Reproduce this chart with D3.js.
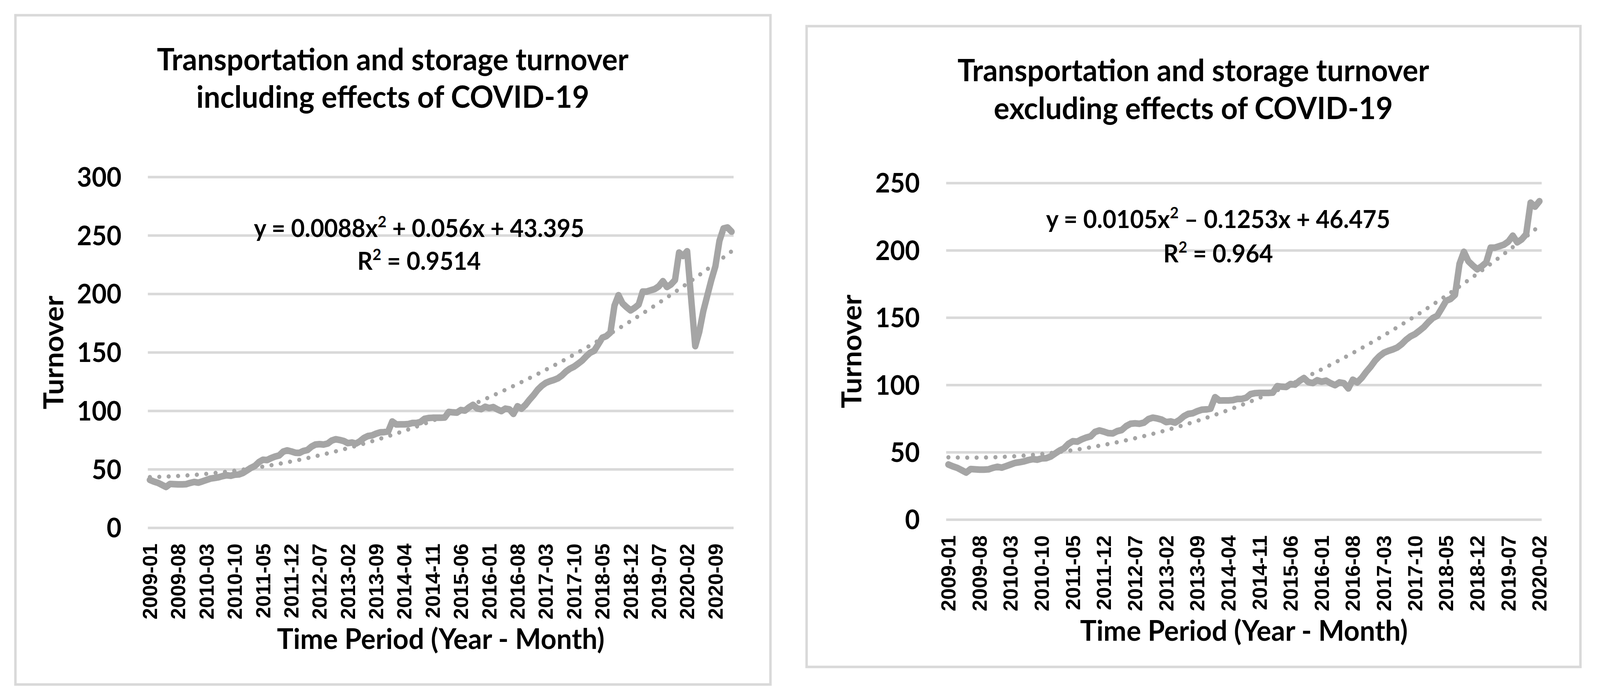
<!DOCTYPE html>
<html lang="en">
<head>
<meta charset="UTF-8">
<title>Transportation and storage turnover</title>
<script src="https://d3js.org/d3.v7.min.js"></script>
<style>
    html, body { margin: 0; padding: 0; background: #fff; overflow: hidden; }
    svg { display: block; width: 100vw; height: 100vh; }
    .title, .axis-title, .eq, .ytick { font-family: Lato, 'Open Sans', sans-serif; font-weight: bold; fill: #000; }
    .xtick { font-family: 'Liberation Sans', Arial, sans-serif; font-weight: bold; fill: #000; }
</style>
</head>
<body>
<div id="chart"></div>
<script>
// monthly turnover, 2009-01 .. 2021-01
const turnover = [
    41, 39.6, 38.5, 36.8, 35, 37.6, 37.4, 37.2, 37.2, 37.4, 38.5, 39.3,
    38.7, 39.8, 41, 42.2, 42.7, 43.3, 44.3, 45, 44.6, 45.5, 45.7, 46.9,
    49.1, 51.3, 53, 56.3, 58.3, 58, 59.7, 61, 61.9, 65.2, 66.3, 65.4,
    64.3, 64.1, 65.8, 66.6, 69.5, 71.3, 71.6, 71.3, 72.1, 74.7, 75.8, 75.2,
    74.3, 72.5, 73, 72.1, 74.1, 76.9, 78.6, 79.1, 80.6, 81.7, 81.9, 82.5,
    91, 88.5, 88.6, 88.6, 88.8, 89.7, 89.7, 90.6, 93.3, 94, 94.2, 94.2,
    94.2, 94.4, 99.2, 98.8, 98.6, 100.8, 100.3, 103.1, 105.2, 102.2, 101.5, 103.6,
    102.5, 103.3, 101.4, 99.9, 102, 101.4, 97.5, 104, 102, 105.3, 109.7, 113.6,
    118.1, 121.5, 124, 125.4, 126.5, 127.9, 130.4, 133.7, 136.2, 137.9, 140.4, 143.1,
    146.7, 149.8, 151.5, 157, 162.6, 164, 167, 190, 199, 192, 188.8, 186,
    188.2, 191, 202.1, 202.1, 203.2, 204.3, 206.6, 211, 206, 208.2, 212, 235.5,
    232.5, 236.6, 196, 155.4, 167.6, 185.4, 198.8, 212.1, 223.8, 245.5, 256.1, 256.9,
    253.3
];
// the "excluding COVID-19" series stops at 2020-02
const turnoverExcl = turnover.slice(0, 134);

const monthsIncl = d3.utcMonth.range(new Date(Date.UTC(2009, 0, 1)), new Date(Date.UTC(2021, 1, 1))).map(d3.utcFormat("%Y-%m"));
const monthsExcl = monthsIncl.slice(0, 134);

const xTicksIncl = ["2009-01","2009-08","2010-03","2010-10","2011-05","2011-12","2012-07","2013-02","2013-09","2014-04",
    "2014-11","2015-06","2016-01","2016-08","2017-03","2017-10","2018-05","2018-12","2019-07","2020-02","2020-09"];
const xTicksExcl = xTicksIncl.slice(0, 20);

const yTicksIncl = [0, 50, 100, 150, 200, 250, 300];
const yTicksExcl = [0, 50, 100, 150, 200, 250];

// polynomial trend coefficients (a, b, c) as printed on the charts
const trendIncl = [0.0088, 0.056, 43.395];
const trendExcl = [0.0105, -0.1253, 46.475];

const W = 4253, H = 1762;
const grey = "#a5a5a5", gridGrey = "#d9d9d9";

// draw in reference pixel units, let the viewBox fit whatever viewport we get
const svg = d3.select("#chart").append("svg")
    .attr("viewBox", `0 0 ${W} ${H}`)
    .attr("preserveAspectRatio", "none");

function drawPanel(cfg) {
    const g = svg.append("g");

    // chart border
    g.append("rect")
        .attr("x", cfg.box[0]).attr("y", cfg.box[1])
        .attr("width", cfg.box[2]).attr("height", cfg.box[3])
        .attr("fill", "#fff")
        .attr("stroke", gridGrey)
        .attr("stroke-width", 6.5);

    const x = d3.scalePoint()
        .domain(cfg.months)
        .range([cfg.plot.l, cfg.plot.r])
        .padding(0.5);
    const y = d3.scaleLinear()
        .domain([0, d3.max(cfg.yTicks)])
        .range([cfg.plot.b, cfg.plot.t]);

    // gridlines
    g.selectAll(".grid")
        .data(cfg.yTicks)
        .enter().append("line")
        .attr("x1", cfg.plot.l).attr("x2", cfg.plot.r)
        .attr("y1", d => y(d)).attr("y2", d => y(d))
        .attr("stroke", gridGrey)
        .attr("stroke-width", 6.5);

    // y tick labels
    g.selectAll(".ytick")
        .data(cfg.yTicks)
        .enter().append("text")
        .attr("class", "ytick")
        .attr("x", cfg.plot.l - 70)
        .attr("y", d => y(d))
        .attr("dy", "0.36em")
        .attr("text-anchor", "end")
        .attr("font-size", 68)
        .text(d => d);

    // x tick labels (rotated)
    g.selectAll(".xtick")
        .data(cfg.xTicks)
        .enter().append("text")
        .attr("class", "xtick")
        .attr("font-size", 53)
        .attr("text-anchor", "end")
        .attr("transform", d => `translate(${x(d) + 19},${cfg.plot.b + 40}) rotate(-90)`)
        .text(d => d);

    // series line
    const line = d3.line()
        .x((d, i) => x(cfg.months[i]))
        .y(d => y(d));
    g.append("path")
        .datum(cfg.values)
        .attr("d", line)
        .attr("fill", "none")
        .attr("stroke", grey)
        .attr("stroke-width", 17)
        .attr("stroke-linejoin", "round")
        .attr("stroke-linecap", "round");

    // dotted polynomial trendline
    const [a, b, c] = cfg.trend;
    const trendVals = cfg.months.map((m, i) => a * (i + 1) * (i + 1) + b * (i + 1) + c);
    g.append("path")
        .datum(trendVals)
        .attr("d", line)
        .attr("fill", "none")
        .attr("stroke", grey)
        .attr("stroke-width", 11)
        .attr("stroke-linecap", "round")
        .attr("stroke-dasharray", "0.1 24.9");

    // equation + R²
    const eq = g.append("text")
        .attr("class", "eq")
        .attr("x", cfg.eqX).attr("y", cfg.eqY[0])
        .attr("text-anchor", "middle")
        .attr("font-size", 63);
    eq.append("tspan").text(cfg.eqParts[0]);
    eq.append("tspan").attr("dy", -25).attr("font-size", 40).text("2");
    eq.append("tspan").attr("dy", 25).text(cfg.eqParts[1]);

    const r2 = g.append("text")
        .attr("class", "eq")
        .attr("x", cfg.eqX).attr("y", cfg.eqY[1])
        .attr("text-anchor", "middle")
        .attr("font-size", 63);
    r2.append("tspan").text("R");
    r2.append("tspan").attr("dy", -25).attr("font-size", 40).text("2");
    r2.append("tspan").attr("dy", 25).text(" = " + cfg.r2);

    // chart title
    g.selectAll(".title")
        .data(cfg.title)
        .enter().append("text")
        .attr("class", "title")
        .attr("x", cfg.titleX)
        .attr("y", (d, i) => cfg.titleY[i])
        .attr("text-anchor", "middle")
        .attr("font-size", 78)
        .text(d => d);

    // axis titles
    g.append("text")
        .attr("class", "axis-title")
        .attr("text-anchor", "middle")
        .attr("font-size", 73)
        .attr("transform", `translate(${cfg.plot.l - 225},${(cfg.plot.t + cfg.plot.b) / 2}) rotate(-90)`)
        .text("Turnover");

    g.append("text")
        .attr("class", "axis-title")
        .attr("text-anchor", "middle")
        .attr("font-size", 73)
        .attr("x", (cfg.plot.l + cfg.plot.r) / 2)
        .attr("y", cfg.plot.b + 310)
        .text("Time Period (Year - Month)");
}

drawPanel({
    box: [41, 39, 2007, 1714],
    plot: { l: 393, r: 1950, t: 453.5, b: 1352 },
    months: monthsIncl,
    values: turnover,
    xTicks: xTicksIncl,
    yTicks: yTicksIncl,
    trend: trendIncl,
    eqParts: ["y = 0.0088x", " + 0.056x + 43.395"],
    r2: "0.9514",
    eqX: 1114, eqY: [607, 691],
    title: ["Transportation and storage turnover", "including effects of COVID-19"],
    titleX: 1044, titleY: [180, 276]
});

drawPanel({
    box: [2144, 67, 2057, 1641],
    plot: { l: 2515, r: 4098, t: 469, b: 1331 },
    months: monthsExcl,
    values: turnoverExcl,
    xTicks: xTicksExcl,
    yTicks: yTicksExcl,
    trend: trendExcl,
    eqParts: ["y = 0.0105x", " \u2013 0.1253x + 46.475"],
    r2: "0.964",
    eqX: 3238, eqY: [584, 672],
    title: ["Transportation and storage turnover", "excluding effects of COVID-19"],
    titleX: 3172, titleY: [208, 305]
});
</script>
</body>
</html>
